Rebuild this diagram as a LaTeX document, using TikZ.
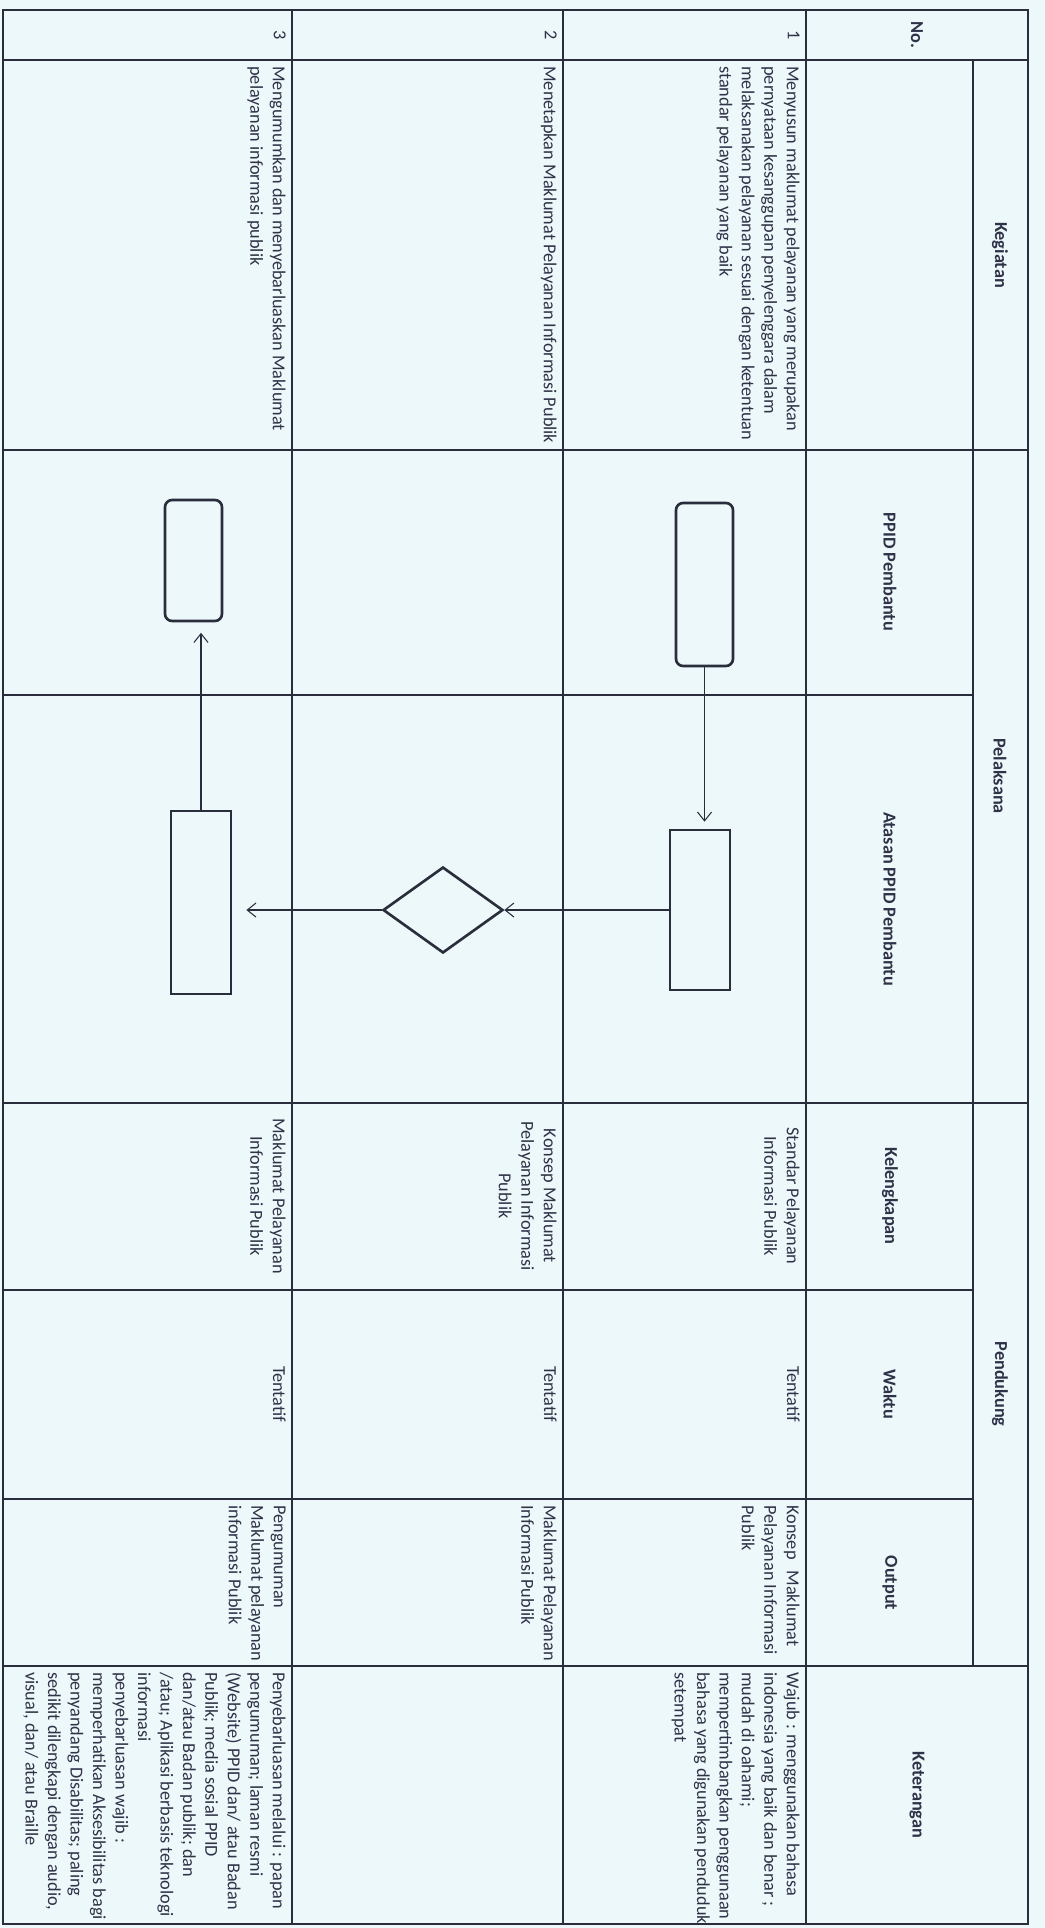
\documentclass[tikz,border=0pt]{standalone}
\usepackage{fontspec}
\setmainfont{Carlito}
\usepackage{tikz}
\usetikzlibrary{shapes.geometric,arrows.meta}
\usepackage{xcolor}
\definecolor{myink}{RGB}{42,45,60}
\definecolor{mytext}{RGB}{48,50,72}
\definecolor{mypaper}{RGB}{237,248,250}
\tikzset{
  tabline/.style={draw=myink,line width=1pt},
  cell/.style={rotate=-90,anchor=north west,align=left,inner sep=0pt,
    text=mytext,font=\fontsize{10.4}{12.8}\selectfont},
  cellc/.style={cell,anchor=north,align=center},
  head/.style={rotate=-90,inner sep=0pt,text=mytext,
    font=\fontsize{10.4}{12.8}\selectfont\bfseries},
  proc/.style={rectangle,draw=myink,line width=1.5pt,minimum width=1.2cm,inner sep=0pt},
  task/.style={rectangle,rounded corners=4pt,draw=myink,line width=1.5pt,
    minimum width=1.14cm,inner sep=0pt},
  decision/.style={diamond,draw=myink,line width=1.5pt,inner sep=0pt,
    minimum width=2.4cm,minimum height=1.72cm},
  flow/.style={-{Straight Barb[length=5pt,width=8pt]},line width=0.6pt,color=myink},
}
\begin{document}
\begin{tikzpicture}[x=0.02cm,y=-0.02cm]
  \fill[mypaper] (0,0) rectangle (1045,1928);
  \useasboundingbox (0,0) rectangle (1045,1928);
  % table
  \draw[tabline] (3,10) rectangle (1028,1924);
  \draw[tabline] (292,10) -- (292,1924) (563,10) -- (563,1924) (806,10) -- (806,1924);
  \draw[tabline] (973,60) -- (973,1666);
  \draw[tabline] (3,60) -- (1028,60) (3,450) -- (1028,450)
    (3,1103) -- (1028,1103) (3,1666) -- (1028,1666);
  \draw[tabline] (3,695) -- (973,695) (3,1290) -- (973,1290) (3,1499) -- (973,1499);
  % header
  \node[head] (hno) at (917,35) {No.};
  \node[head] (hkeg) at (1000,255) {Kegiatan};
  \node[head] (hpel) at (1000,776) {Pelaksana};
  \node[head] (hppid) at (890,572) {PPID Pembantu};
  \node[head] (hata) at (890,899) {Atasan PPID Pembantu};
  \node[head] (hpen) at (1000,1384) {Pendukung};
  \node[head] (hkel) at (890,1196) {Kelengkapan};
  \node[head] (hwak) at (890,1394) {Waktu};
  \node[head] (hout) at (890,1583) {Output};
  \node[head] (hket) at (917,1795) {Keterangan};
  % row 1
  \node[cellc] (no1) at (800,35) {1};
  \node[cell] (keg1) at (800,66) {Menyusun maklumat pelayanan yang merupakan\\
    pernyataan kesanggupan penyelenggara dalam\\
    melaksanakan pelayanan sesuai dengan ketentuan\\
    standar pelayanan yang baik};
  \node[cellc] (kel1) at (800,1196) {Standar Pelayanan\\Informasi Publik};
  \node[cellc] (wak1) at (800,1394) {Tentatif};
  \node[cell] (out1) at (800,1505) {Konsep\hspace{0.6em}Maklumat\\Pelayanan Informasi\\Publik};
  \node[cell] (ket1) at (800,1672) {Wajub : menggunakan bahasa\\
    indonesia yang baik dan benar ;\\
    mudah di oahami;\\
    mempertimbangkan penggunaan\\
    bahasa yang digunakan penduduk\\
    setempat};
  % row 2
  \node[cellc] (no2) at (557,35) {2};
  \node[cell] (keg2) at (557,66) {Menetapkan Maklumat Pelayanan Informasi Publik};
  \node[cellc] (kel2) at (557,1196) {Konsep Maklumat\\Pelayanan Informasi\\Publik};
  \node[cellc] (wak2) at (557,1394) {Tentatif};
  \node[cell] (out2) at (557,1505) {Maklumat Pelayanan\\Informasi Publik};
  % row 3
  \node[cellc] (no3) at (286,35) {3};
  \node[cell] (keg3) at (286,66) {Mengumumkan dan menyebarluaskan Maklumat\\
    pelayanan informasi publik};
  \node[cellc] (kel3) at (286,1196) {Maklumat Pelayanan\\Informasi Publik};
  \node[cellc] (wak3) at (286,1394) {Tentatif};
  \node[cell] (out3) at (286,1505) {Pengumuman\\Maklumat pelayanan\\informasi Publik};
  \node[cell] (ket3) at (286,1672) {Penyebarluasan melalui : papan\\
    pengumuman; laman resmi\\
    (Website) PPID dan/ atau Badan\\
    Publik; media sosial PPID\\
    dan/atau Badan publik; dan\\
    /atau; Aplikasi berbasis teknologi\\
    informasi\\
    penyebarluasan wajib :\\
    memperhatikan Aksesibilitas bagi\\
    penyandang Disabilitas; paling\\
    sedikit dilengkapi dengan audio,\\
    visual, dan/ atau Braille};
  % flow
  \node[task,minimum height=3.26cm] (ppidA) at (704.5,584.5) {};
  \node[proc,minimum height=3.2cm] (atasanA) at (700,910) {};
  \node[decision] (dec) at (443,910) {};
  \node[proc,minimum height=3.66cm] (atasanC) at (201,902.5) {};
  \node[task,minimum height=2.42cm] (ppidC) at (193.5,560.5) {};
  \draw[flow,shorten >=4pt] (ppidA.south) -- (ppidA.south |- atasanA.north);
  \draw[flow] (atasanA.west) -- (dec.east);
  \draw[flow,shorten >=8pt] (dec.west) -- (dec.west -| atasanC.east);
  \draw[flow,shorten >=6pt] (atasanC.north) -- (atasanC.north |- ppidC.south);
\end{tikzpicture}
\end{document}
